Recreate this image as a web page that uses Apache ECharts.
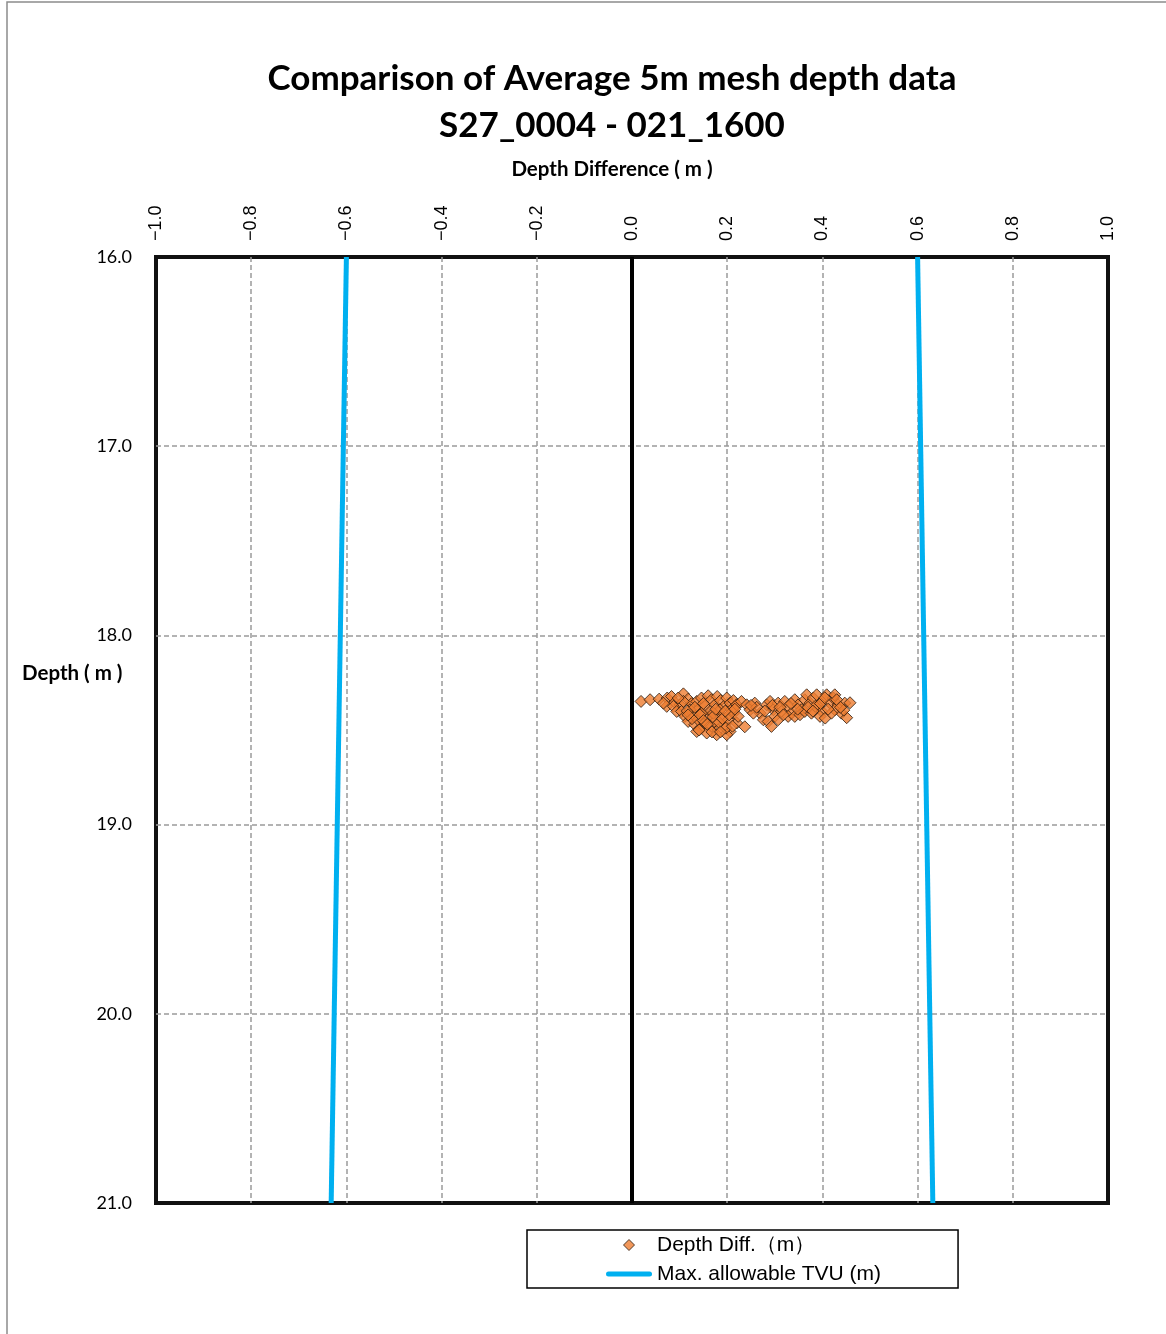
<!DOCTYPE html>
<html>
<head>
<meta charset="utf-8">
<title>Comparison of Average 5m mesh depth data</title>
<script src="https://cdn.jsdelivr.net/npm/echarts@6/dist/echarts.min.js"></script>
<style>
  html, body { margin: 0; padding: 0; background: #fff; }
  #chart { width: 1166px; height: 1334px; }
</style>
</head>
<body>
<div id="chart"></div>
<script>
// Depth difference (m) of each 5m mesh cell, paired with its average depth (m)
const diffValues = [
  0.019, 0.038, 0.057, 0.074, 0.083, 0.090, 0.101, 0.108, 0.118, 0.125,
  0.136, 0.139, 0.146, 0.153, 0.160, 0.167, 0.174, 0.179, 0.186, 0.193,
  0.199, 0.206, 0.213, 0.220, 0.073, 0.087, 0.094, 0.104, 0.111, 0.118,
  0.129, 0.132, 0.139, 0.146, 0.153, 0.160, 0.167, 0.174, 0.181, 0.188,
  0.195, 0.202, 0.206, 0.213, 0.220, 0.136, 0.157, 0.178, 0.199, 0.164,
  0.185, 0.122, 0.146, 0.171, 0.209, 0.108, 0.066, 0.097,
  0.220, 0.230, 0.241, 0.248, 0.258, 0.269, 0.276, 0.283, 0.290, 0.297,
  0.300, 0.307, 0.314, 0.321, 0.328, 0.335, 0.342, 0.349, 0.356, 0.363,
  0.367, 0.374, 0.381, 0.388, 0.392, 0.399, 0.402, 0.409, 0.416, 0.423,
  0.426, 0.433, 0.440, 0.447, 0.395, 0.406, 0.237, 0.286, 0.293, 0.307,
  0.328, 0.342, 0.353, 0.363, 0.377, 0.426, 0.419, 0.223, 0.255, 0.385,
  0.458, 0.451, 0.445,
  0.116, 0.126, 0.143, 0.150, 0.158, 0.170, 0.183, 0.190, 0.197, 0.204,
  0.211, 0.132, 0.150, 0.176, 0.196, 0.216, 0.141, 0.168, 0.186, 0.118,
  0.262, 0.279, 0.295, 0.311, 0.318, 0.334, 0.348, 0.370, 0.396, 0.412,
  0.430, 0.438, 0.405, 0.380, 0.250
];
const depthValues = [
  18.349, 18.340, 18.337, 18.331, 18.323, 18.354, 18.367, 18.309, 18.337, 18.361,
  18.349, 18.393, 18.331, 18.375, 18.319, 18.340, 18.367, 18.323, 18.344, 18.375,
  18.331, 18.358, 18.344, 18.367, 18.375, 18.375, 18.402, 18.402, 18.428, 18.455,
  18.419, 18.472, 18.446, 18.490, 18.463, 18.428, 18.481, 18.455, 18.499, 18.419,
  18.472, 18.446, 18.508, 18.411, 18.463, 18.508, 18.516, 18.525, 18.525, 18.402,
  18.393, 18.393, 18.411, 18.411, 18.393, 18.349, 18.358, 18.331,
  18.367, 18.349, 18.367, 18.393, 18.358, 18.411, 18.446, 18.367, 18.349, 18.393,
  18.428, 18.358, 18.402, 18.349, 18.375, 18.411, 18.340, 18.367, 18.393, 18.340,
  18.314, 18.358, 18.331, 18.314, 18.375, 18.402, 18.340, 18.314, 18.358, 18.331,
  18.314, 18.367, 18.411, 18.358, 18.428, 18.437, 18.483, 18.455, 18.481, 18.446,
  18.428, 18.428, 18.419, 18.402, 18.411, 18.393, 18.411, 18.428, 18.411, 18.375,
  18.356, 18.435, 18.395,
  18.400, 18.440, 18.420, 18.450, 18.470, 18.430, 18.460, 18.440, 18.490, 18.420,
  18.480, 18.380, 18.360, 18.390, 18.400, 18.390, 18.500, 18.510, 18.510, 18.420,
  18.380, 18.400, 18.370, 18.380, 18.420, 18.360, 18.390, 18.380, 18.360, 18.390,
  18.340, 18.380, 18.330, 18.400, 18.370
];

// Maximum allowable TVU (m) at the top and bottom of the depth range
const tvuDepths = [16.0, 21.0];
const tvuLimits = [0.600, 0.632];

// Axis ranges
const diffRange = { min: -1.0, max: 1.0, step: 0.2 };
const depthRange = { min: 16.0, max: 21.0, step: 1.0 };

const scatterName = 'Depth Diff.（m）';
const tvuName = 'Max. allowable TVU (m)';

const scatterData = diffValues.map((v, i) => [v, depthValues[i]]);
const tvuPlus = tvuDepths.map((d, i) => [tvuLimits[i], d]);
const tvuMinus = tvuDepths.map((d, i) => [-tvuLimits[i], d]);

const fmt = v => v.toFixed(1).replace('-', '\u2212');

const gridLineStyle = { color: '#9a9a9a', width: 1.5, type: [5, 3] };

const chart = echarts.init(document.getElementById('chart'));
chart.setOption({
  backgroundColor: '#ffffff',
  animation: false,
  title: [
    {
      text: 'Comparison of Average 5m mesh depth data\nS27_0004 - 021_1600',
      left: 607,
      top: 50,
      textAlign: 'center',
      textStyle: {
        fontFamily: 'Lato',
        fontWeight: 'bold',
        fontSize: 35,
        lineHeight: 47,
        color: '#000'
      }
    },
    {
      text: 'Depth Difference ( m )',
      left: 607,
      top: 154,
      textAlign: 'center',
      textStyle: {
        fontFamily: 'Lato',
        fontWeight: 'bold',
        fontSize: 20.5,
        color: '#000'
      }
    }
  ],
  graphic: [
    {
      type: 'rect',
      shape: { x: 7, y: 2, width: 1300, height: 1400 },
      style: { fill: 'none', stroke: '#8c8c8c', lineWidth: 1.5 },
      silent: true
    },
    {
      type: 'text',
      left: 22,
      top: 663,
      style: {
        text: 'Depth ( m )',
        font: 'bold 20.5px Lato',
        fill: '#000'
      }
    }
  ],
  grid: {
    left: 156,
    right: 58,
    top: 257,
    bottom: 131,
    show: true,
    borderColor: '#111',
    borderWidth: 4,
    backgroundColor: 'transparent'
  },
  xAxis: {
    type: 'value',
    position: 'top',
    min: diffRange.min,
    max: diffRange.max,
    interval: diffRange.step,
    axisLine: { show: false },
    axisTick: { show: false },
    axisLabel: {
      rotate: -90,
      margin: 16,
      fontFamily: 'Liberation Sans',
      fontSize: 18,
      color: '#000',
      formatter: fmt
    },
    splitLine: {
      show: true,
      showMinLine: false,
      showMaxLine: false,
      lineStyle: gridLineStyle
    }
  },
  yAxis: {
    type: 'value',
    inverse: true,
    min: depthRange.min,
    max: depthRange.max,
    interval: depthRange.step,
    axisLine: { show: false },
    axisTick: { show: false },
    axisLabel: {
      margin: 24,
      fontFamily: 'Lato',
      fontSize: 18,
      color: '#000',
      formatter: fmt
    },
    splitLine: {
      show: true,
      showMinLine: false,
      showMaxLine: false,
      lineStyle: gridLineStyle
    }
  },
  legend: {
    orient: 'vertical',
    left: 527,
    top: 1230,
    padding: [2, 77, 1, 79],
    itemGap: 3,
    itemWidth: 46,
    itemHeight: 11,
    symbolKeepAspect: true,
    borderColor: '#000',
    borderWidth: 1.5,
    textStyle: {
      fontFamily: 'Liberation Sans',
      fontSize: 21,
      lineHeight: 26,
      color: '#000'
    },
    data: [
      {
        name: scatterName,
        icon: 'path://M5,0 L10,5 L5,10 L0,5 Z',
        itemStyle: { color: '#ED7D31', borderColor: '#2a1a0e', borderWidth: 1 }
      },
      {
        name: tvuName,
        icon: 'path://M2.5,0 L43.5,0 A2.5,2.5 0 0 1 43.5,5 L2.5,5 A2.5,2.5 0 0 1 2.5,0 Z',
        itemStyle: { color: '#00B0F0', borderWidth: 0 }
      }
    ]
  },
  series: [
    {
      name: tvuName,
      type: 'line',
      data: tvuMinus,
      showSymbol: false,
      symbol: 'none',
      lineStyle: { color: '#00B0F0', width: 5 },
      itemStyle: { color: '#00B0F0' },
      z: 3
    },
    {
      name: tvuName,
      type: 'line',
      data: tvuPlus,
      showSymbol: false,
      symbol: 'none',
      lineStyle: { color: '#00B0F0', width: 5 },
      itemStyle: { color: '#00B0F0' },
      z: 3
    },
    {
      name: scatterName,
      type: 'scatter',
      data: scatterData,
      symbol: 'diamond',
      symbolSize: 12,
      itemStyle: {
        color: '#ED7D31',
        borderColor: '#2a1a0e',
        borderWidth: 1
      },
      markLine: {
        silent: true,
        symbol: 'none',
        label: { show: false },
        lineStyle: { color: '#000', width: 4, type: 'solid' },
        data: [{ xAxis: 0 }]
      },
      z: 4
    }
  ]
});
</script>
</body>
</html>
